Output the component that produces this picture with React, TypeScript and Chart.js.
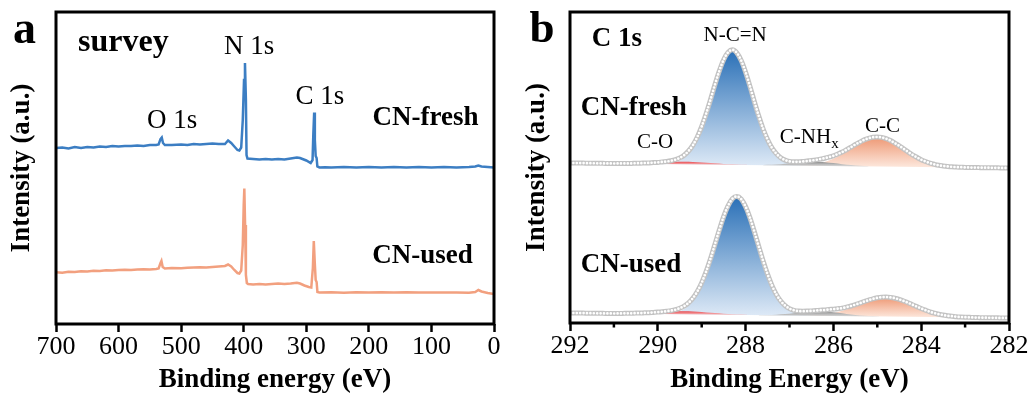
import React, { useEffect, useRef } from "react";
import { Chart, registerables } from "chart.js";

Chart.register(...registerables);

const FONT = "'Liberation Serif', 'Times New Roman', serif";

// ---------- Panel a: survey spectra ----------
const surveyTicks = [700, 600, 500, 400, 300, 200, 100, 0];

const surveyFreshEnergy = [700, 690, 680, 670, 660, 650, 640, 630, 620, 610, 600, 590, 580, 570, 560, 550, 540, 536, 533, 531, 529, 526, 515, 500, 490, 480, 470, 460, 450, 440, 430, 425, 420, 415, 410, 407, 404, 401.5, 399.5, 398, 396.5, 395.5, 394, 385, 375, 365, 355, 345, 335, 325, 315, 310, 300, 293, 290, 288.8, 287.4, 286.3, 285, 283.5, 282.3, 279, 270, 260, 240, 220, 200, 180, 160, 140, 120, 100, 80, 60, 40, 30, 25, 20, 10, 0];
const surveyFreshIntensity = [176, 176.5, 175.5, 177, 176, 177, 176.5, 177.5, 177, 178, 177.5, 178, 178, 178.5, 178, 179, 179, 179.5, 185, 186.5, 181, 179, 179, 179.5, 179, 180, 179.5, 180, 180.5, 180, 180, 183.5, 181, 177.5, 174, 173.5, 176.5, 204, 244, 261, 224, 169, 165.5, 165, 164.5, 165, 164.5, 165, 164.5, 165.5, 166.5, 166, 163.5, 161, 164, 189, 211.5, 184, 168, 166, 157.5, 156.5, 156.8, 156.5, 157, 156.5, 157, 156.5, 157, 156.5, 157, 156.5, 157, 156.5, 157, 157.5, 158.5, 157.5, 157, 156.5];

const surveyUsedEnergy = [700, 690, 680, 670, 660, 650, 640, 630, 620, 610, 600, 590, 580, 570, 560, 550, 540, 536, 533, 531.5, 529.5, 526, 515, 500, 490, 480, 470, 460, 450, 440, 430, 425, 420, 415, 410, 407, 404, 401.5, 400, 399, 397.8, 396.5, 395, 393, 385, 375, 365, 355, 345, 335, 325, 315, 310, 303, 296, 292, 289.5, 288, 286.5, 285, 283.5, 282.2, 279, 260, 240, 220, 200, 180, 160, 140, 120, 100, 80, 60, 40, 30, 25, 20, 10, 0];
const surveyUsedIntensity = [51.7, 51.2, 52.2, 52, 52.7, 52.5, 53.2, 53, 53.7, 53.5, 54, 54.2, 54, 54.5, 54.7, 54.5, 55, 55.5, 61, 63, 57, 55.5, 56, 55.7, 56.2, 56.5, 56.7, 56.5, 57, 57.5, 58, 59.5, 57.5, 54, 51, 50.5, 53.5, 79, 119, 135.5, 99, 49, 41, 40, 39.5, 40, 39.5, 40, 40.5, 40, 40.5, 41.2, 40.5, 38.5, 37, 36.5, 56, 83, 62, 44, 42, 32, 31.5, 31.7, 31.2, 31.7, 31.5, 31.8, 31.4, 31.7, 31.5, 31.6, 31.4, 31.5, 31.3, 32, 34, 32.5, 31, 30];

// ---------- Panel b: C 1s high resolution ----------
const c1sMajorTicks = [292, 290, 288, 286, 284, 282];
const c1sMinorTicks = [291, 289, 287, 285, 283];

const c1sEnergy = [
  292.0, 291.9, 291.8, 291.7, 291.6, 291.5, 291.4, 291.3, 291.2, 291.1,
  291.0, 290.9, 290.8, 290.7, 290.6, 290.5, 290.4, 290.3, 290.2, 290.1,
  290.0, 289.9, 289.8, 289.7, 289.6, 289.5, 289.4, 289.3, 289.2, 289.1,
  289.0, 288.9, 288.8, 288.7, 288.6, 288.5, 288.4, 288.3, 288.2, 288.1,
  288.0, 287.9, 287.8, 287.7, 287.6, 287.5, 287.4, 287.3, 287.2, 287.1,
  287.0, 286.9, 286.8, 286.7, 286.6, 286.5, 286.4, 286.3, 286.2, 286.1,
  286.0, 285.9, 285.8, 285.7, 285.6, 285.5, 285.4, 285.3, 285.2, 285.1,
  285.0, 284.9, 284.8, 284.7, 284.6, 284.5, 284.4, 284.3, 284.2, 284.1,
  284.0, 283.9, 283.8, 283.7, 283.6, 283.5, 283.4, 283.3, 283.2, 283.1,
  283.0, 282.9, 282.8, 282.7, 282.6, 282.5, 282.4, 282.3, 282.2, 282.1,
  282.0,
];

const freshEnvelope = [
  160.0, 160.0, 159.9, 159.9, 159.8, 159.8, 159.7, 159.7, 159.6, 159.6,
  159.5, 159.6, 159.6, 159.6, 159.6, 159.8, 159.8, 160.0, 160.1, 160.4,
  160.6, 161.1, 161.5, 162.2, 163.3, 165.1, 167.8, 172.0, 177.9, 186.0,
  196.5, 209.2, 223.3, 238.2, 251.9, 263.3, 270.6, 273.2, 270.2, 262.5,
  250.8, 236.6, 221.3, 206.9, 194.0, 183.4, 175.1, 169.3, 165.3, 162.9,
  161.6, 161.2, 161.2, 161.5, 162.0, 162.5, 163.1, 163.9, 164.8, 165.9,
  167.2, 169.0, 170.9, 173.3, 175.8, 178.5, 180.8, 183.1, 184.7, 185.8,
  186.0, 185.6, 184.3, 182.4, 179.9, 177.2, 174.1, 171.1, 168.2, 165.7,
  163.3, 161.5, 159.9, 158.7, 157.7, 157.1, 156.6, 156.2, 155.9, 155.8,
  155.6, 155.5, 155.4, 155.4, 155.3, 155.3, 155.2, 155.2, 155.1, 155.1,
  155.0,
];

const usedEnvelope = [
  10.0, 10.0, 9.9, 9.9, 9.8, 9.8, 9.7, 9.7, 9.6, 9.6,
  9.5, 9.6, 9.6, 9.7, 9.7, 9.9, 9.9, 10.2, 10.3, 10.6,
  10.9, 11.3, 11.8, 12.4, 13.3, 14.8, 16.9, 20.2, 24.9, 31.5,
  40.3, 51.3, 64.2, 78.5, 92.9, 106.4, 117.1, 124.3, 126.5, 123.9,
  116.4, 105.2, 91.3, 76.6, 62.0, 48.8, 37.5, 28.6, 22.0, 17.4,
  14.4, 12.7, 11.9, 11.8, 11.9, 12.1, 12.4, 12.8, 13.0, 13.5,
  13.8, 14.3, 14.9, 15.9, 17.0, 18.4, 19.8, 21.4, 22.8, 24.2,
  25.2, 25.8, 25.9, 25.6, 24.8, 23.6, 22.0, 20.3, 18.3, 16.4,
  14.5, 12.8, 11.2, 9.9, 8.8, 8.0, 7.2, 6.8, 6.3, 6.0,
  5.8, 5.7, 5.5, 5.4, 5.3, 5.3, 5.2, 5.2, 5.1, 5.1,
  5.0,
];

const baseEnergy = [292, 282];
const freshBase = [160, 155];
const usedBase = [10, 5];

const freshCOEnergy = [290.9, 290.7, 290.5, 290.3, 290.1, 289.9, 289.7, 289.5, 289.3, 289.1, 288.9, 288.7, 288.5, 288.3, 288.1, 287.9];
const freshCO = [159.6, 159.6, 159.8, 160.0, 160.4, 160.8, 161.1, 161.3, 161.2, 160.8, 160.3, 159.7, 159.1, 158.7, 158.3, 158.1];
const freshNCNEnergy = [290.1, 289.9, 289.7, 289.5, 289.3, 289.1, 288.9, 288.7, 288.5, 288.3, 288.1, 287.9, 287.7, 287.5, 287.3, 287.1, 286.9, 286.7, 286.5];
const freshNCN = [159.1, 159.3, 160.0, 162.6, 169.5, 183.8, 207.4, 236.9, 262.5, 272.7, 262.3, 236.5, 206.8, 183.0, 168.5, 161.4, 158.6, 157.7, 157.3];
const freshNHEnergy = [287.6, 287.4, 287.2, 287.0, 286.8, 286.6, 286.4, 286.2, 286.0, 285.8, 285.6, 285.4, 285.2];
const freshNH = [158.0, 158.2, 158.7, 159.4, 160.3, 161.0, 161.2, 160.8, 159.9, 158.8, 157.9, 157.2, 156.8];
const freshCCEnergy = [287.0, 286.8, 286.6, 286.4, 286.2, 286.0, 285.8, 285.6, 285.4, 285.2, 285.0, 284.8, 284.6, 284.4, 284.2, 284.0, 283.8, 283.6, 283.4, 283.2, 283.0];
const freshCC = [157.6, 157.7, 158.2, 159.1, 161.1, 164.3, 169.0, 174.7, 180.3, 184.5, 186.0, 184.3, 179.9, 174.1, 168.2, 163.3, 159.9, 157.7, 156.6, 155.9, 155.6];

const usedCOEnergy = [290.9, 290.7, 290.5, 290.3, 290.1, 289.9, 289.7, 289.5, 289.3, 289.1, 288.9, 288.7, 288.5, 288.3, 288.1, 287.9];
const usedCO = [9.6, 9.7, 9.9, 10.2, 10.6, 11.1, 11.5, 11.8, 11.7, 11.2, 10.6, 9.9, 9.3, 8.8, 8.4, 8.1];
const usedNCNEnergy = [290.0, 289.8, 289.6, 289.4, 289.2, 289.0, 288.8, 288.6, 288.4, 288.2, 288.0, 287.8, 287.6, 287.4, 287.2, 287.0, 286.8, 286.6, 286.4];
const usedNCN = [9.1, 9.4, 10.5, 13.9, 22.1, 37.9, 62.4, 91.7, 116.4, 126.1, 116.2, 91.3, 61.8, 37.1, 21.1, 12.7, 9.1, 7.8, 7.3];
const usedNHEnergy = [287.7, 287.5, 287.3, 287.1, 286.9, 286.7, 286.5, 286.3, 286.1, 285.9, 285.7, 285.5, 285.3, 285.1, 284.9];
const usedNH = [8.0, 8.1, 8.3, 8.9, 9.7, 10.7, 11.5, 11.7, 11.3, 10.3, 9.1, 8.1, 7.3, 6.9, 6.6];
const usedCCEnergy = [286.8, 286.6, 286.4, 286.2, 286.0, 285.8, 285.6, 285.4, 285.2, 285.0, 284.8, 284.6, 284.4, 284.2, 284.0, 283.8, 283.6, 283.4, 283.2, 283.0, 282.8];
const usedCC = [7.5, 7.6, 7.9, 8.6, 10.0, 12.2, 15.3, 18.9, 22.4, 25.0, 25.9, 24.8, 22.0, 18.3, 14.5, 11.2, 8.8, 7.2, 6.3, 5.8, 5.5];

// ---------- helpers ----------
const pts = (xs: number[], ys: number[]) => xs.map((x, i) => ({ x, y: ys[i] }));

type Note = {
  text: string; x: number; y: number; size: number; bold?: boolean;
  align?: CanvasTextAlign; pixel?: boolean; sub?: string;
};

const makeNotes = (items: Note[]) => ({
  id: "notes",
  afterDraw(chart: any) {
    const { ctx } = chart;
    const sx = chart.scales.x;
    const sy = chart.scales.y;
    for (const n of items) {
      const x = n.pixel ? n.x : sx.getPixelForValue(n.x);
      const y = n.pixel ? n.y : sy.getPixelForValue(n.y);
      ctx.save();
      ctx.fillStyle = "#000";
      ctx.textBaseline = "alphabetic";
      ctx.textAlign = n.align || "center";
      ctx.font = `${n.bold ? "bold " : ""}${n.size}px ${FONT}`;
      ctx.fillText(n.text, x, y);
      if (n.sub) {
        const w = ctx.measureText(n.text).width;
        const sx0 = (n.align === "left" ? x : x - w / 2) + w;
        ctx.textAlign = "left";
        ctx.font = `${Math.round(n.size * 0.7)}px ${FONT}`;
        ctx.fillText(n.sub, sx0, y + 5);
      }
      ctx.restore();
    }
  },
});

const makeFrame = (minor: number[]) => ({
  id: "frame",
  afterDatasetsDraw(chart: any) {
    const { ctx, chartArea: a } = chart;
    ctx.save();
    ctx.strokeStyle = "#000";
    ctx.lineWidth = 3;
    ctx.strokeRect(a.left, a.top, a.right - a.left, a.bottom - a.top);
    if (minor.length) {
      const sx = chart.scales.x;
      ctx.lineWidth = 2.5;
      ctx.beginPath();
      for (const v of minor) {
        const px = sx.getPixelForValue(v);
        ctx.moveTo(px, a.bottom);
        ctx.lineTo(px, a.bottom + 4.5);
      }
      ctx.stroke();
    }
    ctx.restore();
  },
});

const vGrad = (top: string, bottom: string) => (c: any) => {
  const chart = c.chart;
  if (!chart.chartArea) return bottom;
  const ds = chart.data.datasets[c.datasetIndex];
  const ys = ds.data.map((p: any) => p.y);
  const sy = chart.scales.y;
  const g = chart.ctx.createLinearGradient(
    0, sy.getPixelForValue(Math.max(...ys)), 0, sy.getPixelForValue(Math.min(...ys))
  );
  g.addColorStop(0, top);
  g.addColorStop(1, bottom);
  return g;
};

const tickFont = { family: FONT, size: 26 };
const titleFont = { family: FONT, size: 27, weight: "bold" as const };

const xAxis = (min: number, max: number, ticks: number[], title: string, h: number) => ({
  type: "linear" as const,
  min, max, reverse: true,
  afterBuildTicks: (s: any) => { s.ticks = ticks.map((v) => ({ value: v })); },
  afterFit: (s: any) => { s.height = h; },
  ticks: { font: tickFont, color: "#000", padding: 0, maxRotation: 0, autoSkip: false },
  grid: { display: true, drawOnChartArea: false, drawTicks: true, tickLength: 8, tickWidth: 2.5, tickColor: "#000" },
  border: { display: false },
  title: { display: true, text: title, font: titleFont, color: "#000", padding: { top: 0, bottom: 7 } },
});

const yAxis = (max: number, w: number, pad: number) => ({
  min: 0, max,
  afterFit: (s: any) => { s.width = w; },
  ticks: { display: false },
  grid: { display: false },
  border: { display: false },
  title: { display: true, text: "Intensity (a.u.)", font: titleFont, color: "#000", padding: { top: pad, bottom: 0 } },
});

const surveyNotes: Note[] = [
  { text: "a", x: 24.5, y: 43, size: 46, bold: true, pixel: true },
  { text: "survey", x: 664.8, y: 273, size: 32, bold: true, align: "left" },
  { text: "N 1s", x: 391.5, y: 269.7, size: 27 },
  { text: "O 1s", x: 514.6, y: 196, size: 27 },
  { text: "C 1s", x: 278.1, y: 220, size: 27 },
  { text: "CN-fresh", x: 109.5, y: 199, size: 27, bold: true },
  { text: "CN-used", x: 114.3, y: 61, size: 27, bold: true },
];

const c1sNotes: Note[] = [
  { text: "b", x: 22, y: 42, size: 45, bold: true, pixel: true },
  { text: "C 1s", x: 290.93, y: 277, size: 27, bold: true },
  { text: "N-C=N", x: 288.24, y: 282.5, size: 21 },
  { text: "CN-fresh", x: 290.55, y: 208, size: 27, bold: true },
  { text: "C-O", x: 290.06, y: 175, size: 21 },
  { text: "C-NH", x: 287.22, y: 180, size: 21, align: "left", sub: "x" },
  { text: "C-C", x: 284.88, y: 191, size: 21 },
  { text: "CN-used", x: 290.61, y: 51, size: 27, bold: true },
];

const BLUE = ["#2a70b7", "#dde9f6"];
const ORANGE = ["#ee9874", "#fde8dd"];
const RED = ["#e8454b", "#f8c8c8"];
const GRAY = ["#8e8e8e", "#dadada"];
const CLEAR = "rgba(0,0,0,0)";

const comp = (xs: number[], ys: number[], col: string[], base: number, order: number) => ({
  data: pts(xs, ys),
  borderColor: CLEAR,
  borderWidth: 1,
  backgroundColor: vGrad(col[0], col[1]),
  fill: { target: base },
  pointRadius: 0,
  cubicInterpolationMode: "monotone" as const,
  order,
});

const envelope = (ys: number[]) => [
  {
    data: pts(c1sEnergy, ys), borderColor: "#ffffff", borderWidth: 2.7,
    borderDash: [0, 3.4], borderCapStyle: "round" as const,
    pointRadius: 0, fill: false, cubicInterpolationMode: "monotone" as const, order: 0,
  },
  {
    data: pts(c1sEnergy, ys), borderColor: "#c3c3c3", borderWidth: 5,
    pointRadius: 0, fill: false, cubicInterpolationMode: "monotone" as const, order: 1,
  },
];

export default function App() {
  const refA = useRef<HTMLCanvasElement>(null);
  const refB = useRef<HTMLCanvasElement>(null);

  useEffect(() => {
    const chartA = new Chart(refA.current!, {
      type: "line",
      data: {
        datasets: [
          { data: pts(surveyFreshEnergy, surveyFreshIntensity), borderColor: "#3c7ec3", borderWidth: 2.5, pointRadius: 0, tension: 0, fill: false },
          { data: pts(surveyUsedEnergy, surveyUsedIntensity), borderColor: "#f2a07f", borderWidth: 2.5, pointRadius: 0, tension: 0, fill: false },
        ],
      },
      options: {
        responsive: false,
        animation: false,
        layout: { padding: { top: 12, right: 26, left: 0, bottom: 0 } },
        plugins: { legend: { display: false }, tooltip: { enabled: false } },
        scales: {
          x: xAxis(0, 700, surveyTicks, "Binding energy (eV)", 79),
          y: yAxis(312, 56, 6),
        },
      } as any,
      plugins: [makeFrame([]), makeNotes(surveyNotes)],
    });

    const B_FRESH = 12;
    const B_USED = 13;
    const chartB = new Chart(refB.current!, {
      type: "line",
      data: {
        datasets: [
          ...envelope(freshEnvelope),
          ...envelope(usedEnvelope),
          comp(freshCOEnergy, freshCO, RED, B_FRESH, 2),
          comp(freshNHEnergy, freshNH, GRAY, B_FRESH, 3),
          comp(freshNCNEnergy, freshNCN, BLUE, B_FRESH, 4),
          comp(freshCCEnergy, freshCC, ORANGE, B_FRESH, 5),
          comp(usedCOEnergy, usedCO, RED, B_USED, 2),
          comp(usedNHEnergy, usedNH, GRAY, B_USED, 3),
          comp(usedNCNEnergy, usedNCN, BLUE, B_USED, 4),
          comp(usedCCEnergy, usedCC, ORANGE, B_USED, 5),
          { data: pts(baseEnergy, freshBase), borderColor: CLEAR, pointRadius: 0, fill: false, order: 9 },
          { data: pts(baseEnergy, usedBase), borderColor: CLEAR, pointRadius: 0, fill: false, order: 9 },
        ],
      },
      options: {
        responsive: false,
        animation: false,
        layout: { padding: { top: 12, right: 26, left: 0, bottom: 0 } },
        plugins: { legend: { display: false }, tooltip: { enabled: false } },
        scales: {
          x: xAxis(282, 292, c1sMajorTicks, "Binding Energy (eV)", 80),
          y: yAxis(311, 50, 1),
        },
      } as any,
      plugins: [makeFrame(c1sMinorTicks), makeNotes(c1sNotes)],
    });

    return () => {
      chartA.destroy();
      chartB.destroy();
    };
  }, []);

  return (
    <div style={{ position: "fixed", left: 0, top: 0, width: 1035, height: 403, background: "#fff" }}>
      <canvas ref={refA} width={520} height={403} style={{ position: "absolute", left: 0, top: 0 }} />
      <canvas ref={refB} width={515} height={403} style={{ position: "absolute", left: 520, top: 0 }} />
    </div>
  );
}
